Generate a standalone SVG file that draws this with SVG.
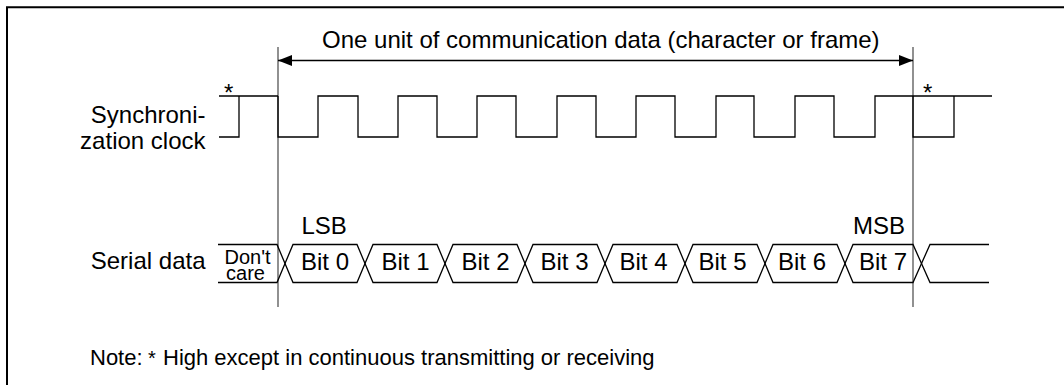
<svg xmlns="http://www.w3.org/2000/svg" width="1064" height="385" viewBox="0 0 1064 385">
  <style>
    text { font-family: "Liberation Sans", Arial, sans-serif; fill: #000; }
    .lbl { font-size: 24px; }
    .small { font-size: 20px; }
    .note { font-size: 22px; }
    .nast { font-size: 20px; }
    .ast { font-size: 24px; }
    .frame { fill: none; stroke: #000; stroke-width: 2; }
    .guide { stroke: #555; stroke-width: 1.3; fill: none; }
    .sig { stroke: #000; stroke-width: 1.3; fill: none; stroke-linejoin: miter; }
    .bit { stroke: #000; stroke-width: 1.3; fill: none; }
    .dim { stroke: #000; stroke-width: 1.3; fill: none; }
  </style>
  <defs>
    <marker id="arrow" viewBox="0 0 14 11" refX="14" refY="5.5" markerWidth="14" markerHeight="11" markerUnits="userSpaceOnUse" orient="auto-start-reverse">
      <path d="M0,0 L14,5.5 L0,11 Z" fill="#000"/>
    </marker>
  </defs>

  <rect width="1064" height="385" fill="#fff"/>

  <g id="frame">
    <path class="frame" d="M7 386 V7.3 H1066"/>
  </g>

  <g id="title">
    <text class="lbl" x="322" y="47.5">One unit of communication data (character or frame)</text>
  </g>

  <g id="connectors">
    <line class="guide" x1="278" y1="47" x2="278" y2="307"/>
    <line class="guide" x1="913" y1="47" x2="913" y2="307"/>
    <line class="dim" x1="278" y1="60.5" x2="913" y2="60.5" marker-start="url(#arrow)" marker-end="url(#arrow)"/>
  </g>

  <g id="clock">
    <text class="lbl" x="205.5" y="123" text-anchor="end">Synchroni-</text>
    <text class="lbl" x="205.5" y="148.5" text-anchor="end">zation clock</text>
    <text class="ast" x="224" y="100.5">*</text>
    <text class="ast" x="923" y="100.5">*</text>
    <path class="sig" d="M219 96 H278 M219 137 H239 V96"/>
    <path class="sig" d="M278 96 V137 H318 V96 H358 V137 H398 V96 H437 V137 H477 V96 H516 V137 H557 V96 H596 V137 H636 V96 H675 V137 H716 V96 H754 V137 H795 V96 H834 V137 H875 V96 H992"/>
    <path class="sig" d="M913 96 V137 H954 V96"/>
  </g>

  <g id="serial-data">
    <text class="lbl" x="205.5" y="268.5" text-anchor="end">Serial data</text>
    <text class="lbl" x="301.5" y="233.5">LSB</text>
    <text class="lbl" x="905" y="233.5" text-anchor="end">MSB</text>
    <g id="dont-care">
      <polyline class="bit" points="218,244.5 277,244.5 285,263.5 277,282.5 218,282.5"/>
      <text class="small" x="247.5" y="263.5" text-anchor="middle">Don't</text>
      <text class="small" x="245.5" y="279.5" text-anchor="middle">care</text>
    </g>
    <g id="bit0">
      <polygon class="bit" points="285,263.5 293,244.5 357,244.5 365,263.5 357,282.5 293,282.5"/>
      <text class="lbl" x="325" y="270" text-anchor="middle">Bit 0</text>
    </g>
    <g id="bit1">
      <polygon class="bit" points="365,263.5 373,244.5 437,244.5 445,263.5 437,282.5 373,282.5"/>
      <text class="lbl" x="405.5" y="270" text-anchor="middle">Bit 1</text>
    </g>
    <g id="bit2">
      <polygon class="bit" points="445,263.5 453,244.5 517,244.5 525,263.5 517,282.5 453,282.5"/>
      <text class="lbl" x="485.5" y="270" text-anchor="middle">Bit 2</text>
    </g>
    <g id="bit3">
      <polygon class="bit" points="525,263.5 533,244.5 597,244.5 605,263.5 597,282.5 533,282.5"/>
      <text class="lbl" x="564.5" y="270" text-anchor="middle">Bit 3</text>
    </g>
    <g id="bit4">
      <polygon class="bit" points="605,263.5 613,244.5 677,244.5 685,263.5 677,282.5 613,282.5"/>
      <text class="lbl" x="643.5" y="270" text-anchor="middle">Bit 4</text>
    </g>
    <g id="bit5">
      <polygon class="bit" points="685,263.5 693,244.5 757,244.5 765,263.5 757,282.5 693,282.5"/>
      <text class="lbl" x="722.5" y="270" text-anchor="middle">Bit 5</text>
    </g>
    <g id="bit6">
      <polygon class="bit" points="765,263.5 773,244.5 837,244.5 845,263.5 837,282.5 773,282.5"/>
      <text class="lbl" x="802" y="270" text-anchor="middle">Bit 6</text>
    </g>
    <g id="bit7">
      <polygon class="bit" points="845,263.5 853,244.5 913,244.5 921.5,263.5 913,282.5 853,282.5"/>
      <text class="lbl" x="883" y="270" text-anchor="middle">Bit 7</text>
    </g>
    <g id="after">
      <polyline class="bit" points="989,244.5 930,244.5 921.5,263.5 930,282.5 989,282.5"/>
    </g>
  </g>

  <g id="note">
    <text class="note" x="90" y="364.5">Note:</text>
    <text class="nast" x="148" y="364.5">*</text>
    <text class="note" x="163" y="364.5">High except in continuous transmitting or receiving</text>
  </g>
</svg>
